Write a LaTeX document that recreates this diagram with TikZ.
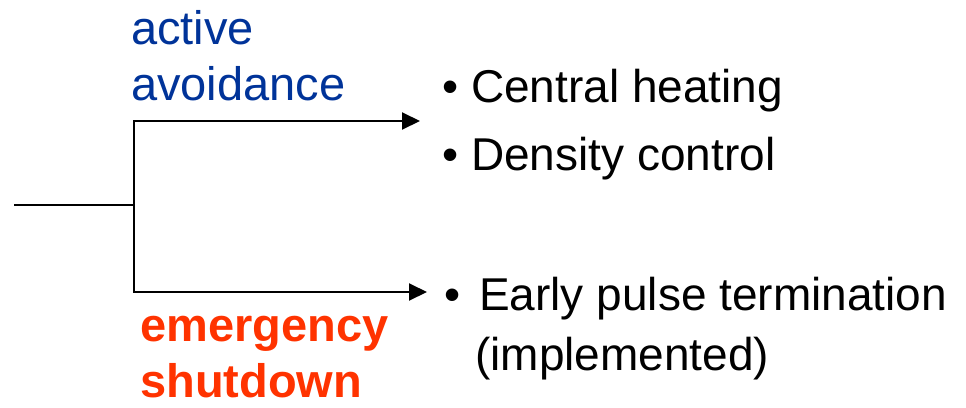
\documentclass[tikz,border=0pt]{standalone}
\usepackage{fontspec}
\setmainfont{Liberation Sans}
\usetikzlibrary{arrows.meta}
\definecolor{avblue}{HTML}{003399}
\definecolor{emred}{HTML}{FF3300}
\tikzset{
  conn/.style={line width=2pt, draw=black},
  arr/.style={conn, -{Triangle[length=18pt,width=17pt]}},
  lbl/.style={anchor=base west, inner sep=0pt, font=\fontsize{46}{55}\selectfont},
  bul/.style={anchor=base, inner sep=0pt, font=\fontsize{46}{55}\selectfont},
  bluelbl/.style={anchor=base west, inner sep=0pt, text=avblue, font=\fontsize{47}{56}\selectfont},
  redlbl/.style={anchor=base west, inner sep=0pt, text=emred, font=\fontsize{47}{56}\selectfont\bfseries}
}
\begin{document}
\begin{tikzpicture}[x=1pt,y=-1pt]
\useasboundingbox (0,0) rectangle (966,407);
% connectors
\coordinate (start) at (14,205);
\coordinate (junction) at (134,205);
\coordinate (topcorner) at (134,121);
\coordinate (topend) at (420,121);
\coordinate (botcorner) at (134,292);
\coordinate (botend) at (427,292);
\draw[conn] (start) -- (junction);
\draw[arr] (junction) -- (topcorner) -- (topend);
\draw[arr] (junction) -- (botcorner) -- (botend);
% labels
\node[bluelbl] (active) at (131,44) {active};
\node[bluelbl] (avoid) at (131,100) {avoidance};
\node[redlbl] (emerg) at (140,341) {emergency};
\node[redlbl, text depth=0pt] (shut) at (140,397) {shutdown};
% bullets
\node[bul] (b1) at (451,102) {•};
\node[lbl] (central) at (471,102) {Central heating};
\node[bul] (b2) at (451,170) {•};
\node[lbl] (density) at (471,170) {Density control};
\node[bul] (b3) at (453,310) {•};
\node[lbl] (early) at (479,310) {Early pulse termination};
\node[lbl] (impl) at (475,370) {(implemented)};
\end{tikzpicture}
\end{document}
